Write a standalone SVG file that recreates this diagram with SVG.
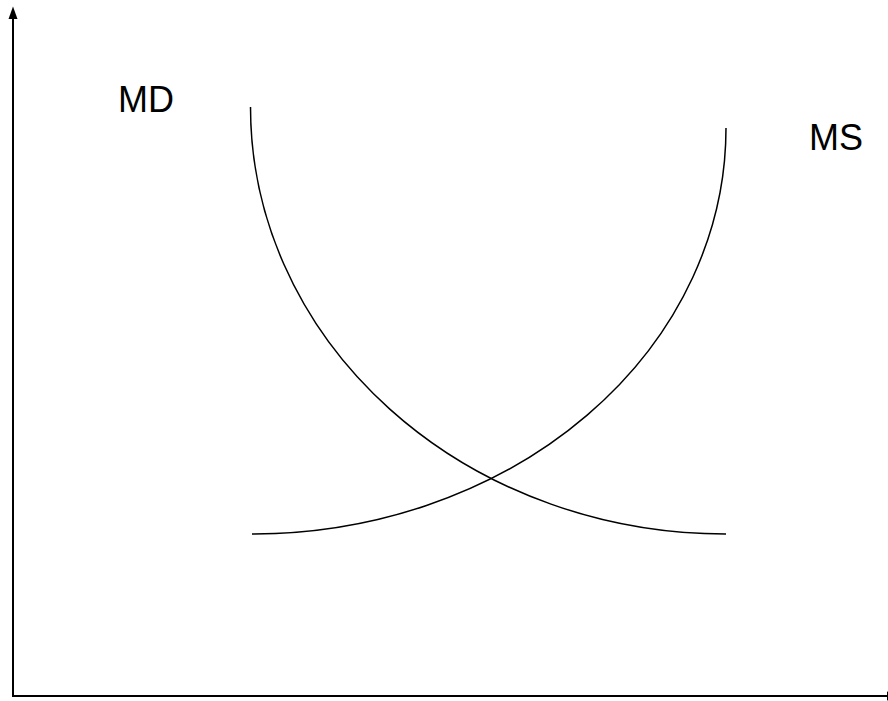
<svg xmlns="http://www.w3.org/2000/svg" width="888" height="701" viewBox="0 0 888 701">
<style>
.ax{stroke:#000;stroke-width:2;fill:none}
.cv{stroke:#000;stroke-width:1.5;fill:none}
.lb{font-family:"Liberation Sans",Arial,sans-serif;font-size:36px;fill:#000}
</style>
<rect width="888" height="701" fill="#fff"/>
<g id="connectors">
<line class="ax" x1="13" y1="696" x2="13" y2="18"/>
<polygon points="13,6.5 8.5,19 17.5,19" fill="#000"/>
<line class="ax" x1="12" y1="696" x2="887" y2="696"/>
<polygon points="900,696 887,691.5 887,700.5" fill="#000"/>
</g>
<g id="MD">
<path class="cv" d="M250.5,107 A475,427 0 0 0 726,534"/>
<text class="lb" x="118" y="112">MD</text>
</g>
<g id="MS">
<path class="cv" d="M252,534 A474,406 0 0 0 726,128"/>
<text class="lb" x="809" y="150">MS</text>
</g>
</svg>
